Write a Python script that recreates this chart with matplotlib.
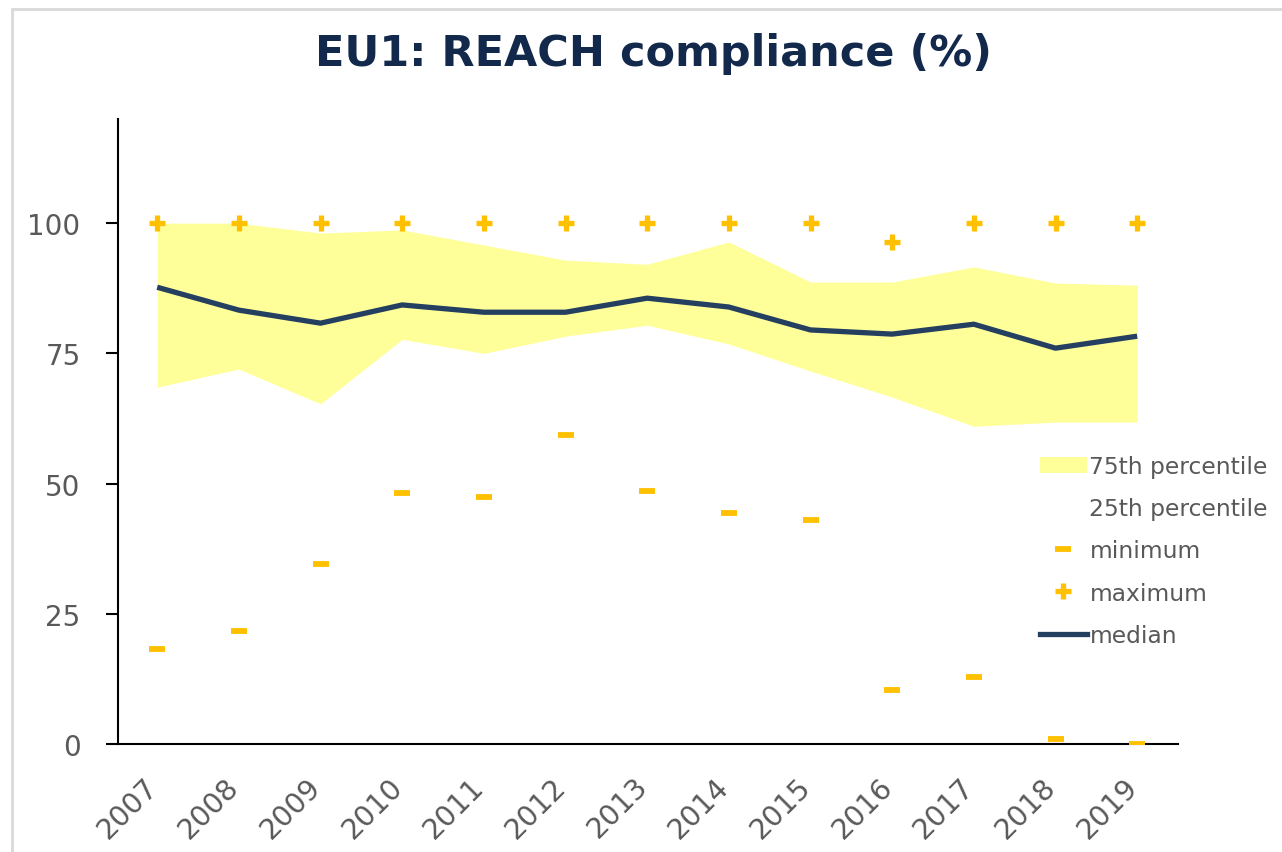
import matplotlib
matplotlib.use('Agg')
import matplotlib.pyplot as plt
import matplotlib.transforms as mtransforms
from matplotlib.lines import Line2D
from matplotlib.patches import Patch, Rectangle

# data
years = ['2007', '2008', '2009', '2010', '2011', '2012', '2013',
         '2014', '2015', '2016', '2017', '2018', '2019']
p75 = [100.0, 100.0, 98.1, 98.7, 95.8, 92.9, 92.1, 96.4, 88.7, 88.7, 91.6, 88.5, 88.1]
p25 = [68.5, 72.0, 65.3, 77.7, 75.0, 78.3, 80.4, 76.8, 71.6, 66.6, 61.0, 61.8, 61.8]
median = [87.7, 83.3, 80.8, 84.3, 82.9, 82.9, 85.6, 83.9, 79.5, 78.7, 80.6, 76.0, 78.3]
minimum = [18.2, 21.7, 34.5, 48.2, 47.4, 59.3, 48.6, 44.3, 43.0, 10.4, 12.9, 1.0, 0.0]
maximum = [100, 100, 100, 100, 100, 100, 100, 100, 100, 96.4, 100, 100, 100]

YELLOW = '#FFFF99'
ORANGE = '#FFC000'
NAVY = '#243F60'
GREY = '#595959'

fig = plt.figure(figsize=(12.82, 8.53), dpi=100)
ax = fig.add_axes([118/1282, 108/853, 1060/1282, 625/853])

x = list(range(len(years)))
ax.fill_between(x, p25, p75, color=YELLOW, lw=0, zorder=1)
ax.plot(x, median, color=NAVY, lw=3.8, zorder=3, solid_capstyle='butt')
ax.plot(x, minimum, ls='none', marker='_', ms=11, mew=4.2, color=ORANGE, zorder=4)
ax.plot(x, maximum, ls='none', marker='+', ms=11, mew=3.8, color=ORANGE, zorder=4)

ax.set_xlim(-0.48, 12.5)
ax.set_ylim(0, 120)
ax.set_yticks([0, 25, 50, 75, 100])
ax.set_xticks(x)
ax.set_xticklabels(years, rotation=45, ha='right', va='center', rotation_mode='anchor')
ax.tick_params(axis='y', direction='out', length=9, width=1.5, pad=18,
               labelsize=20, labelcolor=GREY)
ax.tick_params(axis='x', length=0, pad=27, labelsize=20.5, labelcolor=GREY)
shift = mtransforms.ScaledTranslation(-4/100, 0, fig.dpi_scale_trans)
for lab in ax.get_xticklabels():
    lab.set_transform(lab.get_transform() + shift)
for s in ['top', 'right']:
    ax.spines[s].set_visible(False)
for s in ['left', 'bottom']:
    ax.spines[s].set_linewidth(1.5)

fig.text(0.51, 0.937, 'EU1: REACH compliance (%)', ha='center', va='center',
         fontsize=31, fontweight='bold', color='#13294B')

handles = [
    Patch(facecolor=YELLOW, edgecolor='none'),
    Patch(facecolor='white', edgecolor='none'),
    Line2D([], [], ls='none', marker='_', ms=11, mew=4.2, color=ORANGE),
    Line2D([], [], ls='none', marker='+', ms=11, mew=3.8, color=ORANGE),
    Line2D([], [], color=NAVY, lw=3.8),
]
labels = ['75th percentile', '25th percentile', 'minimum', 'maximum', 'median']
leg = fig.legend(handles, labels, loc='center left',
                 bbox_to_anchor=(1040/1282, 1 - 552/853), frameon=False,
                 fontsize=16.8, handlelength=2.0, handletextpad=0.12,
                 labelspacing=0.82, borderpad=0, borderaxespad=0)
for t in leg.get_texts():
    t.set_color(GREY)

# light grey frame round the chart
fig.patches.append(Rectangle((12/1282, -0.05), 1.1, 1 - 10/853 + 0.05,
                             transform=fig.transFigure, fill=False,
                             edgecolor='#D9D9D9', lw=2))

fig.savefig('out.png', dpi=100)
